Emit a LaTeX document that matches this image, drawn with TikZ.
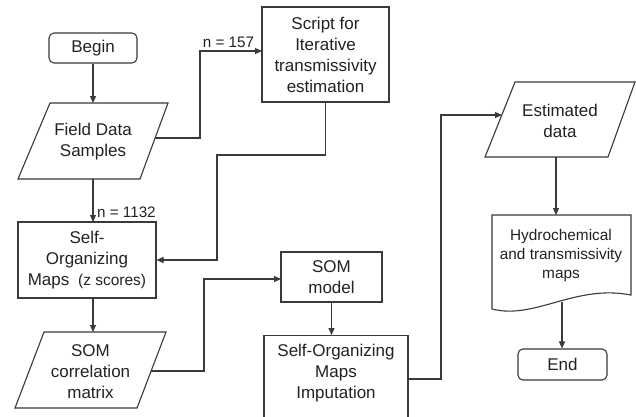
\documentclass[tikz,border=0pt]{standalone}
\usepackage{fontspec}
\setmainfont{Liberation Sans}
\usetikzlibrary{arrows.meta}
\definecolor{ln}{HTML}{3A3A3A}
\definecolor{tx}{HTML}{222222}
\begin{document}
\begin{tikzpicture}[x=1pt,y=-1pt,
  box/.style={draw=ln, line width=1.1pt, rectangle, inner sep=0pt, align=center, text=tx, font=\fontsize{17}{21}\selectfont},
  term/.style={box, rounded corners=5pt},
  txt/.style={inner sep=0pt, align=center, text=tx, font=\fontsize{17}{21}\selectfont},
  arr/.style={draw=ln, line width=1.1pt, -{Triangle[length=7pt,width=6pt]}},
  shp/.style={draw=ln, line width=1.1pt, line join=miter},
  lbl/.style={inner sep=0pt, text=tx, font=\fontsize{15.2}{18}\selectfont}]
\fill[white] (0,0) rectangle (636,416);
\useasboundingbox (0,0) rectangle (636,416);
\clip (0,0) rectangle (636,416);

% Begin
\node[term, minimum width=88pt, minimum height=30pt] (begin) at (93,48) {Begin};

% Field Data Samples (parallelogram)
\coordinate (f1) at (50,103);
\coordinate (f2) at (168,103);
\coordinate (f3) at (140,179);
\coordinate (f4) at (18,179);
\draw[shp] (f1) -- (f2) -- (f3) -- (f4) -- cycle;
\node[txt] (field) at (93,142) {Field Data\\Samples};
\coordinate (fieldtop) at (93,103);
\coordinate (fieldbot) at (93,179);
\coordinate (fieldright) at (155,138);

% Script box
\node[box, minimum width=127pt, minimum height=95pt] (script) at (325.5,54.5)
  {Script for\\Iterative\\transmissivity\\estimation};

% SOM z scores
\node[box, minimum width=138pt, minimum height=76pt] (somz) at (87,260)
  {Self-\\Organizing\\Maps\hspace{4pt} {\fontsize{15.5}{21}\selectfont(z scores)}};

% SOM correlation matrix (parallelogram)
\coordinate (c1) at (44,332);
\coordinate (c2) at (166,332);
\coordinate (c3) at (137,408);
\coordinate (c4) at (15,408);
\draw[shp] (c1) -- (c2) -- (c3) -- (c4) -- cycle;
\node[txt] (corr) at (90.5,372) {SOM\\correlation\\matrix};
\coordinate (corrtop) at (93,332);
\coordinate (corrright) at (151,371);

% SOM model
\node[box, minimum width=101pt, minimum height=50pt] (sommodel) at (331.5,277) {SOM\\model};

% Imputation
\node[box, minimum width=144pt, minimum height=105pt, anchor=north] (imp) at (336,335) {};
\node[txt] (imptxt) at (336,373) {Self-Organizing\\Maps\\Imputation};

% Estimated data (parallelogram)
\coordinate (e1) at (515,82);
\coordinate (e2) at (635,82);
\coordinate (e3) at (608,157);
\coordinate (e4) at (485,157);
\draw[shp] (e1) -- (e2) -- (e3) -- (e4) -- cycle;
\node[txt] (est) at (560,121) {Estimated\\data};
\coordinate (estleft) at (502,115);
\coordinate (estbot) at (556,157);

% Document
\coordinate (d1) at (492,309);
\coordinate (d2) at (492,215);
\coordinate (d3) at (631,215);
\coordinate (d4) at (631,295);
\draw[shp] (d1) -- (d2) -- (d3) -- (d4) .. controls (575,284) and (535,320) .. (d1);
\node[inner sep=0pt, align=center, text=tx, font=\fontsize{15.4}{19}\selectfont] (doc) at (561,256)
  {Hydrochemical\\and transmissivity\\maps};
\coordinate (doctop) at (556,215);
\coordinate (docbot) at (562,302);

% End
\node[term, minimum width=89pt, minimum height=31pt] (end) at (562.5,364.5) {End};

% Connectors
\draw[arr] (begin.south) -- (fieldtop);
\coordinate (k1) at (200,138);
\coordinate (k2) at (200,51);
\coordinate (k3) at (262,51);
\draw[arr] (fieldright) -- (k1) -- (k2) -- (k3);
\node[lbl, anchor=base] (n157) at (228.5,47.5) {n = 157};

\coordinate (s1) at (325.5,155);
\coordinate (s2) at (217,155);
\coordinate (s3) at (217,260);
\draw[arr] (script.south) -- (s1) -- (s2) -- (s3) -- (somz.east);

\coordinate (somztop) at (93,222);
\draw[arr] (fieldbot) -- (somztop);
\node[lbl, anchor=base west] (n1132) at (97,217.5) {n = 1132};

\coordinate (somzbot) at (93,298);
\draw[arr] (somzbot) -- (corrtop);

\coordinate (r1) at (204,371);
\coordinate (r2) at (204,279);
\coordinate (r3) at (281,279);
\draw[arr] (corrright) -- (r1) -- (r2) -- (r3);

\coordinate (imptop) at (331.5,335);
\draw[arr] (sommodel.south) -- (imptop);

\coordinate (i0) at (408,379);
\coordinate (i1) at (441,379);
\coordinate (i2) at (441,115);
\draw[arr] (i0) -- (i1) -- (i2) -- (estleft);

\draw[arr] (estbot) -- (doctop);
\draw[arr] (docbot) -- (end.north -| docbot);
\end{tikzpicture}
\end{document}
